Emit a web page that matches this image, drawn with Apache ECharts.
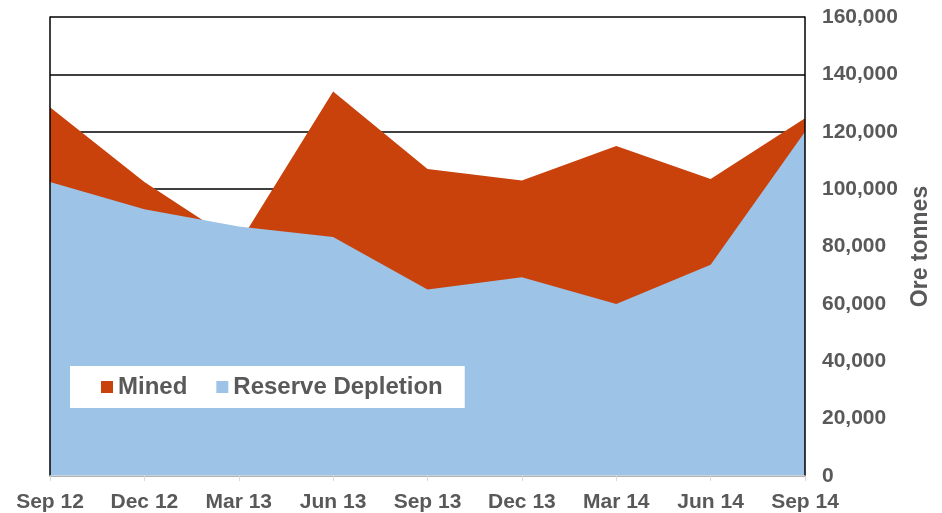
<!DOCTYPE html>
<html>
<head>
<meta charset="utf-8">
<script src="https://cdn.jsdelivr.net/npm/echarts@6/dist/echarts.min.js"></script>
<style>
html,body{margin:0;padding:0;background:#fff;}
#chart{width:942px;height:513px;}
</style>
</head>
<body>
<div id="chart"></div>
<script>
// quarters on the x axis
var categories = ['Sep 12','Dec 12','Mar 13','Jun 13','Sep 13','Dec 13','Mar 14','Jun 14','Sep 14'];
// ore tonnes
var mined = [128500, 102500, 81000, 134000, 107000, 103000, 115000, 103500, 124700];
var reserveDepletion = [102500, 93000, 87000, 83300, 65000, 69300, 60000, 73600, 120000];

var grey = '#595959';
var font = 'Liberation Sans, Arial, sans-serif';

var myChart = echarts.init(document.getElementById('chart'));
var option = {
    animation: false,
    grid: {left: 50, right: 137, top: 17, bottom: 37},
    legend: {
        left: 70, top: 366,
        padding: [9, 22, 9, 31],
        backgroundColor: '#fff',
        itemWidth: 12, itemHeight: 12, itemGap: 29,
        icon: 'rect',
        textStyle: {color: grey, fontSize: 24, fontWeight: 'bold', fontFamily: font},
        data: ['Mined', 'Reserve Depletion']
    },
    xAxis: {
        type: 'category',
        boundaryGap: false,
        data: categories,
        z: 3,
        axisLine: {lineStyle: {color: '#d9d9d9', width: 1.5}},
        axisTick: {show: true, length: 5, lineStyle: {color: '#d9d9d9'}},
        axisLabel: {color: grey, fontSize: 21, fontWeight: 'bold', fontFamily: font, margin: 16}
    },
    yAxis: [
        {
            type: 'value', position: 'right',
            min: 0, max: 160000, interval: 20000,
            name: 'Ore tonnes', nameLocation: 'middle', nameRotate: 90, nameGap: 98,
            nameTextStyle: {color: grey, fontSize: 23, fontWeight: 'bold', fontFamily: font},
            axisLine: {show: false},
            axisTick: {show: false},
            axisLabel: {
                color: grey, fontSize: 21, fontWeight: 'bold', fontFamily: font, margin: 17,
                formatter: function (v) { return v.toLocaleString('en-US'); }
            },
            splitLine: {lineStyle: {color: '#000', width: 1.5}}
        },
        {
            type: 'value', position: 'left', min: 0, max: 160000, z: 3,
            axisLine: {show: true, lineStyle: {color: '#000', width: 1.5}},
            axisTick: {show: false}, axisLabel: {show: false}, splitLine: {show: false}
        },
        {
            type: 'value', position: 'right', min: 0, max: 160000, z: 3,
            axisLine: {show: true, lineStyle: {color: '#000', width: 1.5}},
            axisTick: {show: false}, axisLabel: {show: false}, splitLine: {show: false}
        }
    ],
    series: [
        {
            name: 'Mined', type: 'line', data: mined,
            symbol: 'none', lineStyle: {width: 0},
            itemStyle: {color: '#C9410B'},
            areaStyle: {color: '#C9410B', opacity: 1}
        },
        {
            name: 'Reserve Depletion', type: 'line', data: reserveDepletion,
            symbol: 'none', lineStyle: {width: 0},
            itemStyle: {color: '#9DC3E6'},
            areaStyle: {color: '#9DC3E6', opacity: 1}
        }
    ]
};
myChart.setOption(option);
</script>
</body>
</html>
